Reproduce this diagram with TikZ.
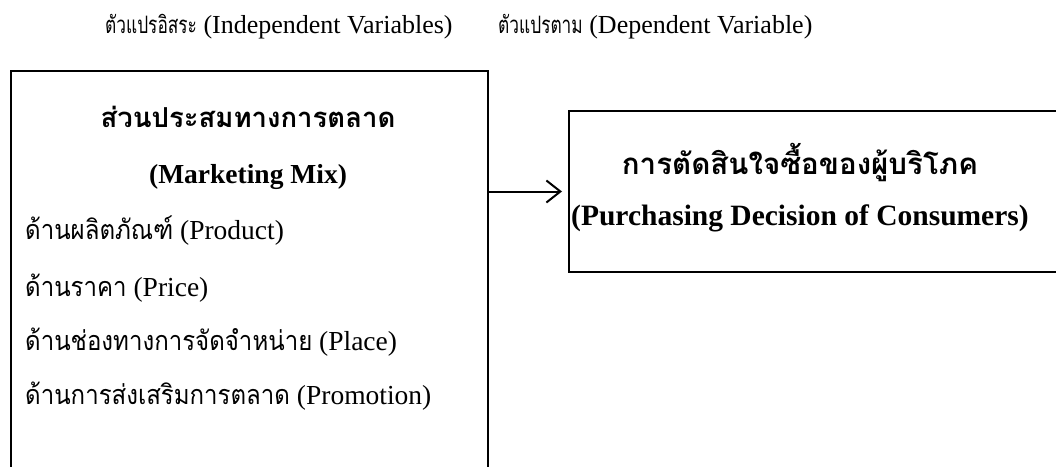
\documentclass[tikz,border=0pt]{standalone}
\usepackage{fontspec}
\setmainfont{Liberation Serif}
\newfontfamily\thai[Script=Thai]{Loma}
\newfontfamily\thaiL[Script=Thai,FakeStretch=0.89]{Loma}
\newfontfamily\thaiH[Script=Thai,FakeStretch=0.72]{Loma}
\newcommand{\thailn}{\thaiL\fontsize{27}{32}\selectfont}
\newcommand{\thaihd}{\thaiH\fontsize{24}{30}\selectfont}
\usetikzlibrary{arrows.meta}
\tikzset{
  box/.style={draw, line width=2pt, rectangle, inner sep=0pt, anchor=north west},
  ln/.style={anchor=west, inner sep=0pt, font=\fontsize{27.5}{32}\selectfont},
  ttl/.style={anchor=center, inner sep=0pt, font=\bfseries\fontsize{27.5}{32}\selectfont},
  ttr/.style={anchor=center, inner sep=0pt, font=\bfseries\fontsize{29.5}{34}\selectfont},
  hdr/.style={anchor=west, inner sep=0pt, font=\fontsize{26}{30}\selectfont},
  link/.style={line width=2pt, -{Straight Barb[length=14pt,width=22pt,line width=2pt]}, shorten >=6pt}
}
\begin{document}
\begin{tikzpicture}[x=1pt,y=-1pt]
\useasboundingbox (0,0) rectangle (1056,466);
\clip (0,0) rectangle (1056,466);
% header
\node[hdr] (h1) at (105,27) {{\thaihd ตัวแปรอิสระ} (Independent Variables)};
\node[hdr] (h2) at (498,27) {{\thaihd ตัวแปรตาม} (Dependent Variable)};
% boxes
\node[box, minimum width=477pt, minimum height=430pt] (iv) at (10,70) {};
\node[box, minimum width=520pt, minimum height=161pt] (dv) at (568,110) {};
% left box text
\node[ttl] (t1) at (248,117) {\thai ส่วนประสมทางการตลาด};
\node[ttl] (t2) at (248,177) {(Marketing Mix)};
\node[ln] (l1) at (25,231) {{\thailn ด้านผลิตภัณฑ์} (Product)};
\node[ln] (l2) at (25,288) {{\thailn ด้านราคา} (Price)};
\node[ln] (l3) at (25,342) {{\thailn ด้านช่องทางการจัดจำหน่าย} (Place)};
\node[ln] (l4) at (25,396) {{\thailn ด้านการส่งเสริมการตลาด} (Promotion)};
% right box text
\node[ttr] (r1) at (800,162) {\thai การตัดสินใจซื้อของผู้บริโภค};
\node[ttr] (r2) at (800,218) {(Purchasing Decision of Consumers)};
% connector
\draw[link] (iv.east |- dv.west) -- (dv.west);
\end{tikzpicture}
\end{document}
